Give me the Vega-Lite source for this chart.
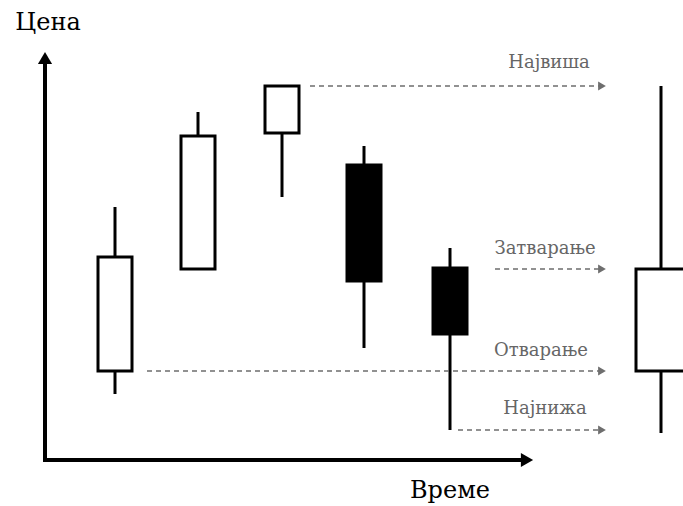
{
  "$schema": "https://vega.github.io/schema/vega-lite/v6.json",
  "width": 683,
  "height": 506,
  "autosize": {"type": "fit", "contains": "padding"},
  "padding": 0,
  "background": "white",
  "config": {"view": {"stroke": null}},
  "datasets": {
    "candles": [
      {"x": 98, "x2": 132, "xc": 115, "open": 371, "close": 257, "high": 207, "low": 394, "dir": "up"},
      {"x": 181, "x2": 215, "xc": 198, "open": 269, "close": 136, "high": 112, "low": 269, "dir": "up"},
      {"x": 265, "x2": 299, "xc": 282, "open": 133, "close": 86, "high": 86, "low": 197, "dir": "up"},
      {"x": 347, "x2": 381, "xc": 364, "open": 165, "close": 281, "high": 146, "low": 348, "dir": "down"},
      {"x": 433, "x2": 467, "xc": 450, "open": 268, "close": 334, "high": 248, "low": 430, "dir": "down"},
      {"x": 636, "x2": 700, "xc": 661, "open": 371, "close": 269, "high": 86, "low": 433, "dir": "up"}
    ],
    "axes": [
      {"x": 45, "y": 460, "x2": 45, "y2": 62},
      {"x": 43, "y": 460, "x2": 522, "y2": 460}
    ],
    "axisHeads": [
      {"x": 45, "y": 58, "shape": "triangle-up"},
      {"x": 527, "y": 460, "shape": "triangle-right"}
    ],
    "guides": [
      {"x": 310, "x2": 600, "y": 86},
      {"x": 495, "x2": 600, "y": 269},
      {"x": 147, "x2": 600, "y": 371},
      {"x": 458, "x2": 600, "y": 430}
    ],
    "guideHeads": [
      {"x": 602, "y": 86},
      {"x": 602, "y": 269},
      {"x": 602, "y": 371},
      {"x": 602, "y": 430}
    ],
    "guideLabels": [
      {"x": 549, "y": 63, "label": "Највиша"},
      {"x": 545, "y": 249, "label": "Затварање"},
      {"x": 541, "y": 351, "label": "Отварање"},
      {"x": 545, "y": 409, "label": "Најнижа"}
    ],
    "titles": [
      {"x": 48, "y": 23, "label": "Цена"},
      {"x": 450, "y": 491, "label": "Време"}
    ]
  },
  "encoding": {
    "x": {"field": "x", "type": "quantitative", "scale": {"domain": [0, 683], "nice": false, "zero": false}, "axis": null},
    "y": {"field": "y", "type": "quantitative", "scale": {"domain": [0, 506], "nice": false, "zero": false, "reverse": true}, "axis": null}
  },
  "layer": [
    {
      "data": {"name": "candles"},
      "mark": {"type": "rule", "stroke": "black", "strokeWidth": 3, "clip": true},
      "encoding": {
        "x": {"field": "xc", "type": "quantitative"},
        "y": {"field": "high", "type": "quantitative"},
        "y2": {"field": "low"}
      }
    },
    {
      "data": {"name": "candles"},
      "mark": {"type": "rect", "stroke": "black", "strokeWidth": 3, "clip": true},
      "encoding": {
        "x": {"field": "x", "type": "quantitative"},
        "x2": {"field": "x2"},
        "y": {"field": "open", "type": "quantitative"},
        "y2": {"field": "close"},
        "fill": {"field": "dir", "type": "nominal", "scale": {"domain": ["up", "down"], "range": ["white", "black"]}, "legend": null}
      }
    },
    {
      "data": {"name": "axes"},
      "mark": {"type": "rule", "stroke": "black", "strokeWidth": 4},
      "encoding": {
        "x2": {"field": "x2"},
        "y2": {"field": "y2"}
      }
    },
    {
      "data": {"name": "axisHeads"},
      "mark": {"type": "point", "filled": true, "color": "black", "opacity": 1, "size": 200},
      "encoding": {
        "shape": {"field": "shape", "type": "nominal", "scale": null}
      }
    },
    {
      "data": {"name": "guides"},
      "mark": {"type": "rule", "stroke": "#6e6e6e", "strokeWidth": 1.5, "strokeDash": [5, 4]},
      "encoding": {
        "x2": {"field": "x2"}
      }
    },
    {
      "data": {"name": "guideHeads"},
      "mark": {"type": "point", "filled": true, "color": "#6e6e6e", "opacity": 1, "size": 80, "shape": "triangle-right"},
      "encoding": {}
    },
    {
      "data": {"name": "guideLabels"},
      "mark": {"type": "text", "font": "DejaVu Serif", "fontSize": 18, "color": "#666666", "align": "center", "baseline": "middle"},
      "encoding": {
        "text": {"field": "label", "type": "nominal"}
      }
    },
    {
      "data": {"name": "titles"},
      "mark": {"type": "text", "font": "DejaVu Serif", "fontSize": 24, "color": "black", "align": "center", "baseline": "middle"},
      "encoding": {
        "text": {"field": "label", "type": "nominal"}
      }
    }
  ]
}
